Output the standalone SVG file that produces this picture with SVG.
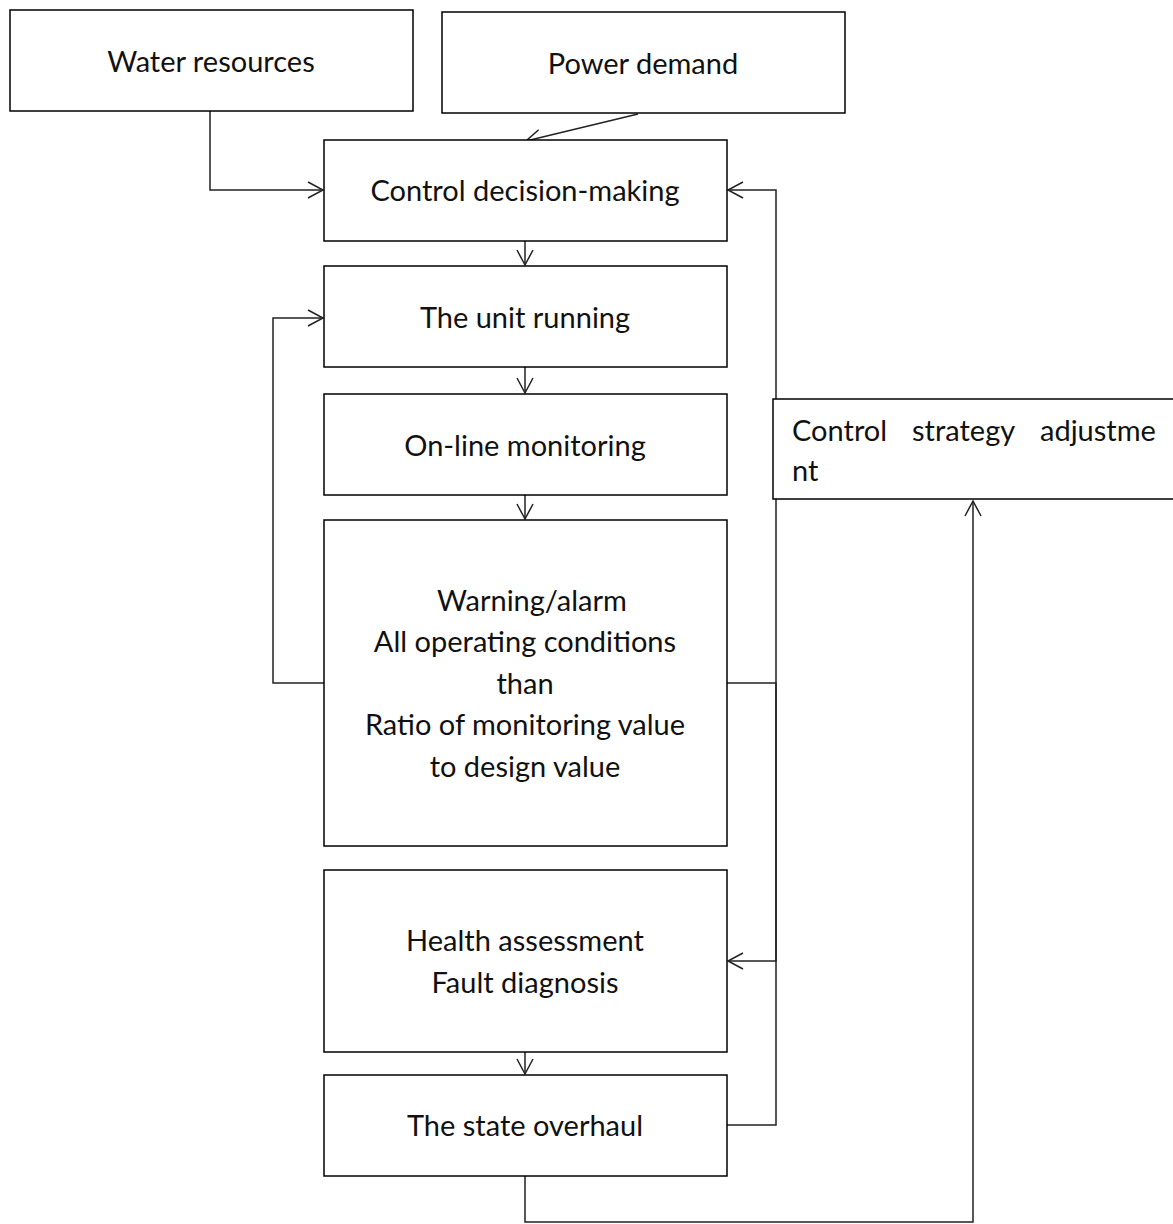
<svg xmlns="http://www.w3.org/2000/svg" width="1173" height="1224" viewBox="0 0 1173 1224">
<style>
.box{fill:#fff;stroke:#000;stroke-width:1.5}
.t{font-family:Lato,"Open Sans","Liberation Sans",sans-serif;font-size:29px;fill:#111;text-anchor:middle}
.tl{font-family:Lato,"Open Sans","Liberation Sans",sans-serif;font-size:29px;fill:#111}
.c{fill:none;stroke:#222;stroke-width:1.5}
</style>
<defs>
<marker id="ah" markerWidth="22" markerHeight="22" refX="16" refY="9" orient="auto" markerUnits="userSpaceOnUse">
<path d="M1,1 L16,9 L1,17" fill="none" stroke="#222" stroke-width="1.5"/>
</marker>
</defs>
<rect width="1173" height="1224" fill="#fff"/>
<g id="connectors">
<path class="c" d="M210,111 V190 H323" marker-end="url(#ah)"/>
<path class="c" d="M638,114 L526,141" marker-end="url(#ah)"/>
<path class="c" d="M525,241 V265" marker-end="url(#ah)"/>
<path class="c" d="M525,367 V393" marker-end="url(#ah)"/>
<path class="c" d="M525,495 V519" marker-end="url(#ah)"/>
<path class="c" d="M324,683 H273 V318 H323" marker-end="url(#ah)"/>
<path class="c" d="M727,683 H776 V961 H728" marker-end="url(#ah)"/>
<path class="c" d="M525,1052 V1074" marker-end="url(#ah)"/>
<path class="c" d="M727,1125 H776 V190 H728" marker-end="url(#ah)"/>
<path class="c" d="M525,1176 V1222 H973 V501" marker-end="url(#ah)"/>
</g>
<g id="water"><rect class="box" x="10" y="10" width="403" height="101"/><text class="t" x="211" y="72">Water resources</text></g>
<g id="power"><rect class="box" x="442" y="12" width="403" height="101"/><text class="t" x="643" y="74">Power demand</text></g>
<g id="control"><rect class="box" x="324" y="140" width="403" height="101"/><text class="t" x="525" y="201">Control decision-making</text></g>
<g id="unit"><rect class="box" x="324" y="266" width="403" height="101"/><text class="t" x="525" y="328">The unit running</text></g>
<g id="monitor"><rect class="box" x="324" y="394" width="403" height="101"/><text class="t" x="525" y="456">On-line monitoring</text></g>
<g id="warning"><rect class="box" x="324" y="520" width="403" height="326"/>
<text class="t" x="532" y="611">Warning/alarm</text>
<text class="t" x="525" y="652">All operating conditions</text>
<text class="t" x="525" y="694">than</text>
<text class="t" x="525" y="735">Ratio of monitoring value</text>
<text class="t" x="525" y="777">to design value</text></g>
<g id="health"><rect class="box" x="324" y="870" width="403" height="182"/>
<text class="t" x="525" y="951">Health assessment</text>
<text class="t" x="525" y="993">Fault diagnosis</text></g>
<g id="overhaul"><rect class="box" x="324" y="1075" width="403" height="101"/><text class="t" x="525" y="1136">The state overhaul</text></g>
<g id="strategy"><rect class="box" x="773" y="399" width="410" height="100"/>
<text class="tl" y="441"><tspan x="792">Control</tspan><tspan x="912">strategy</tspan><tspan x="1040">adjustme</tspan></text>
<text class="tl" x="792" y="481">nt</text></g>
</svg>
